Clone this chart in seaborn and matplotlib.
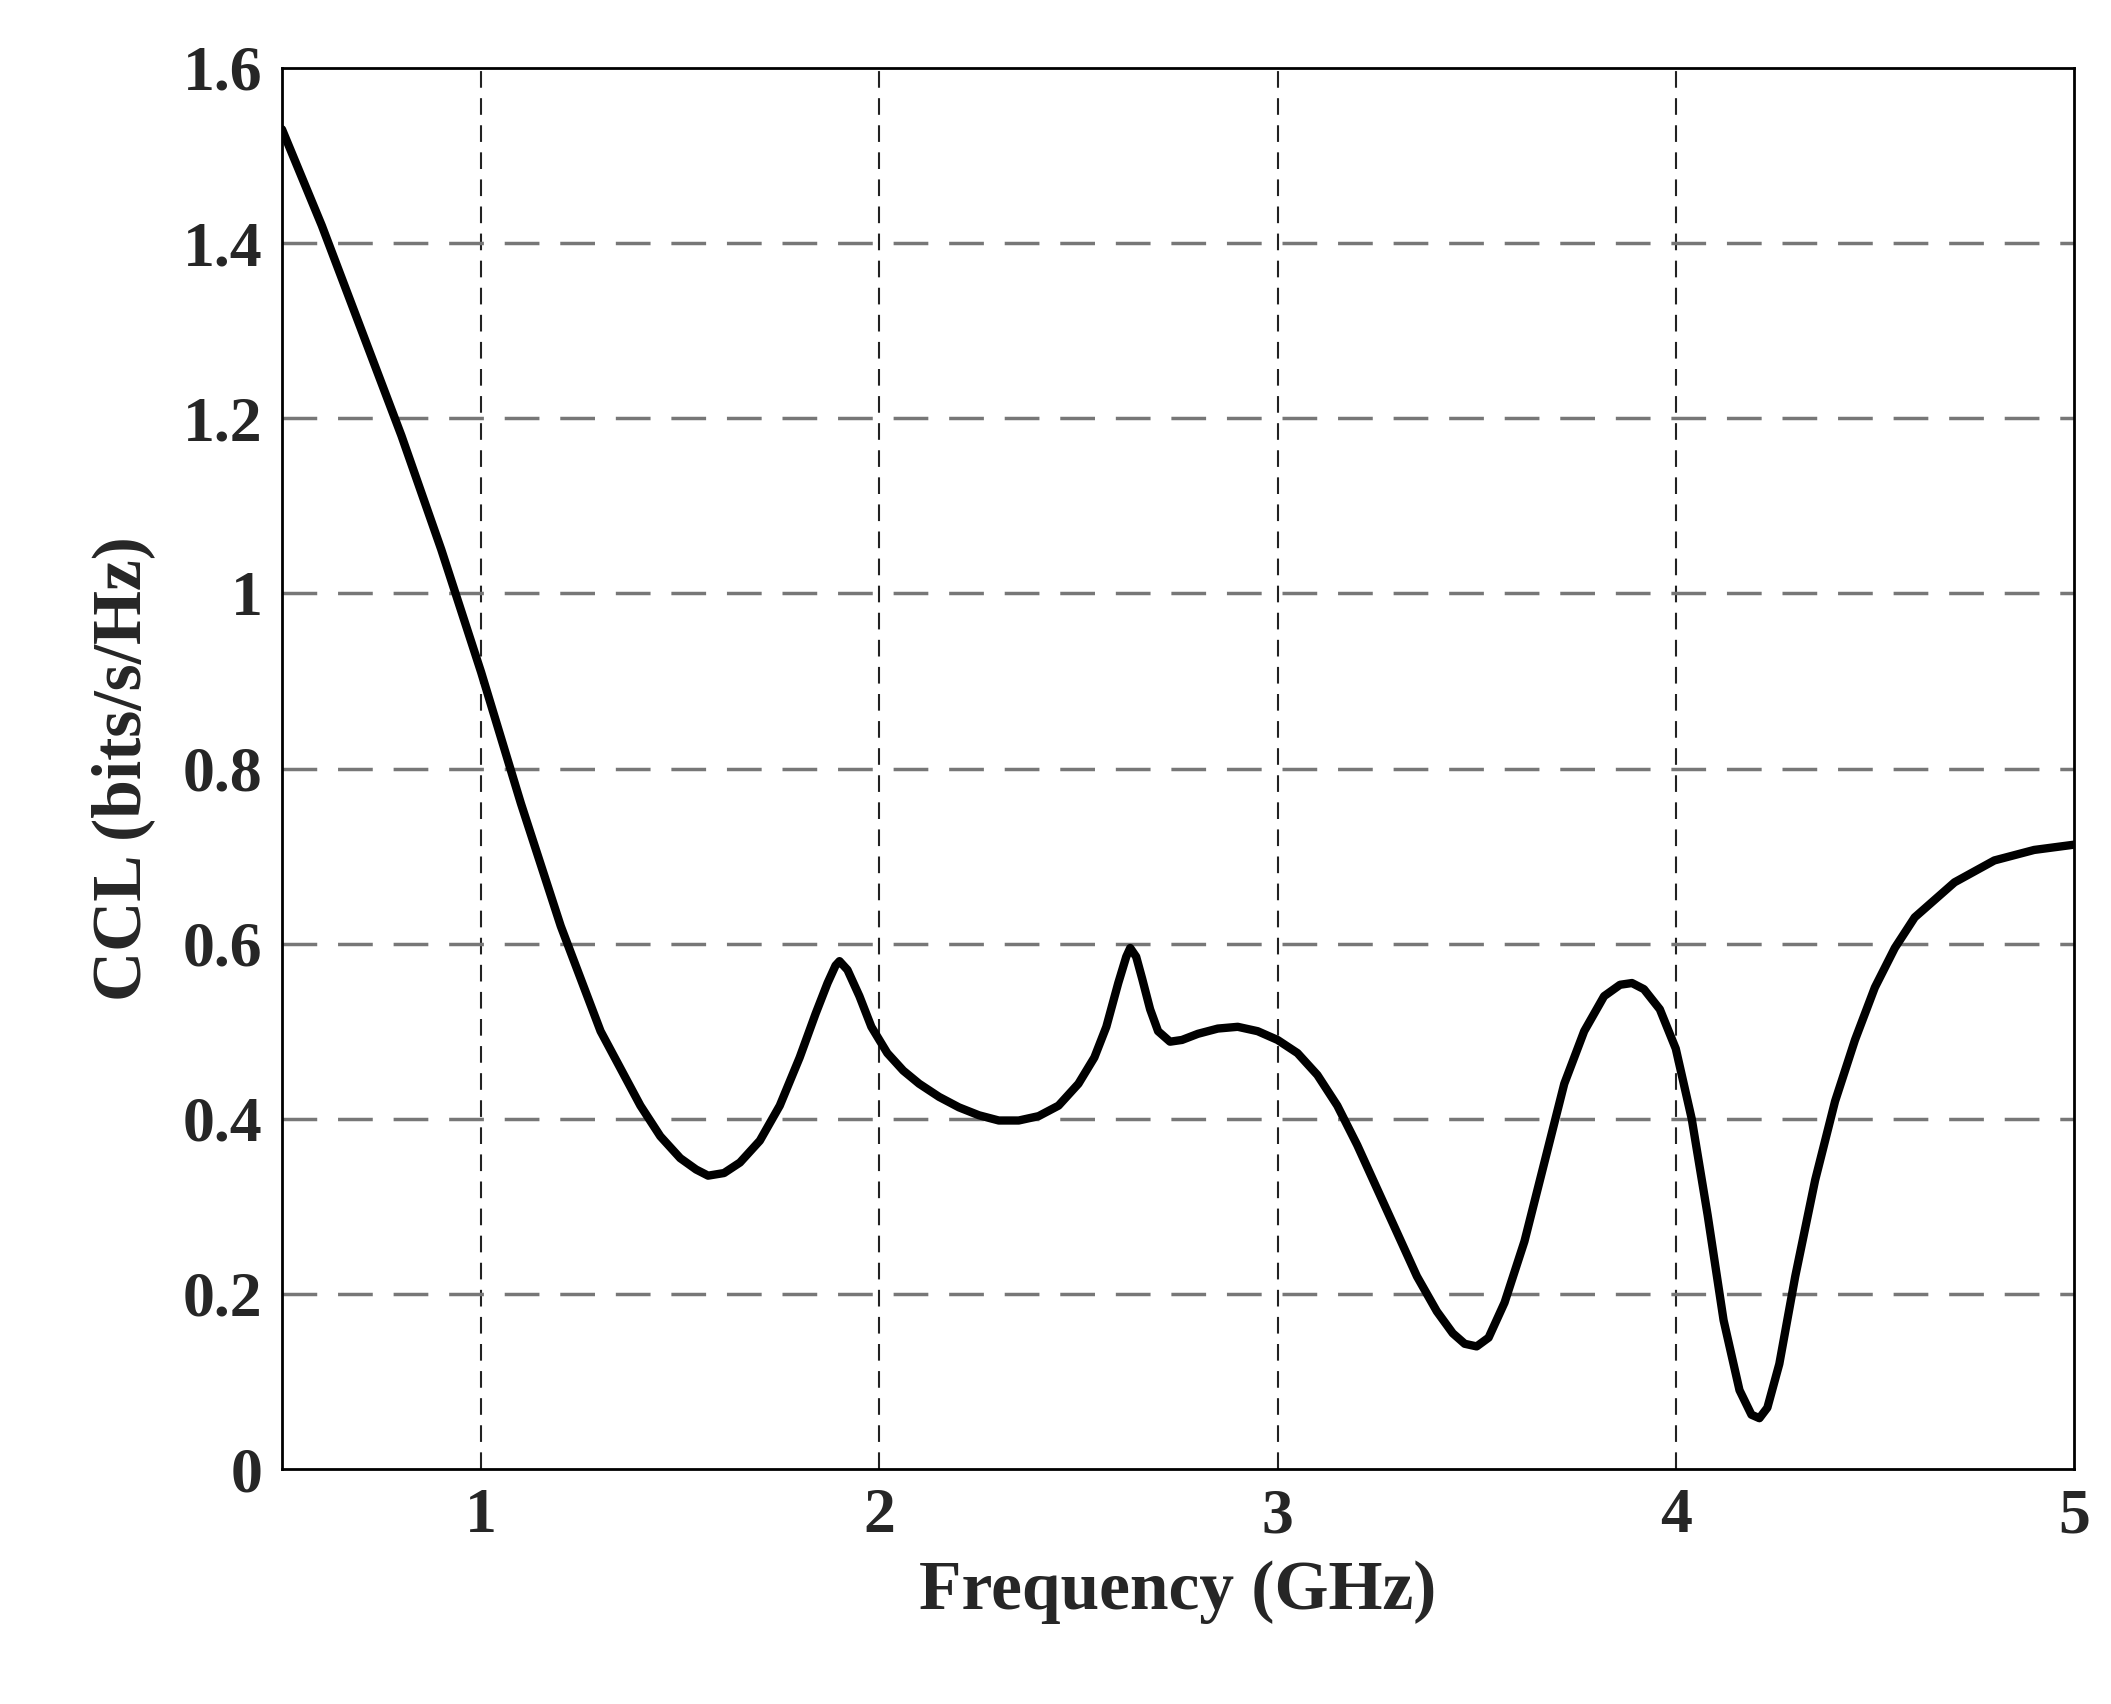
import matplotlib
matplotlib.use("Agg")
import matplotlib.pyplot as plt
import seaborn as sns
import pandas as pd

freq = [0.5, 0.6, 0.7, 0.8, 0.9, 1.0, 1.1, 1.2, 1.3, 1.4, 1.45, 1.5, 1.54, 1.57, 1.61, 1.65, 1.7, 1.75, 1.8, 1.84, 1.87, 1.89, 1.9, 1.92, 1.95, 1.98, 2.02, 2.06, 2.1, 2.15, 2.2, 2.25, 2.3, 2.35, 2.4, 2.45, 2.5, 2.54, 2.57, 2.6, 2.62, 2.63, 2.645, 2.66, 2.68, 2.7, 2.73, 2.76, 2.8, 2.85, 2.9, 2.95, 3.0, 3.05, 3.1, 3.15, 3.2, 3.25, 3.3, 3.35, 3.4, 3.44, 3.47, 3.5, 3.53, 3.57, 3.62, 3.67, 3.72, 3.77, 3.82, 3.86, 3.89, 3.92, 3.96, 4.0, 4.04, 4.08, 4.12, 4.16, 4.19, 4.21, 4.23, 4.26, 4.3, 4.35, 4.4, 4.45, 4.5, 4.55, 4.6, 4.7, 4.8, 4.9, 5.0]
ccl = [1.53, 1.42, 1.30, 1.18, 1.05, 0.91, 0.76, 0.62, 0.50, 0.415, 0.38, 0.355, 0.342, 0.335, 0.338, 0.35, 0.375, 0.415, 0.47, 0.52, 0.555, 0.575, 0.58, 0.57, 0.54, 0.505, 0.475, 0.455, 0.44, 0.425, 0.413, 0.404, 0.398, 0.398, 0.403, 0.415, 0.44, 0.47, 0.505, 0.555, 0.585, 0.595, 0.585, 0.56, 0.525, 0.5, 0.488, 0.49, 0.497, 0.503, 0.505, 0.5, 0.49, 0.475, 0.45, 0.415, 0.37, 0.32, 0.27, 0.22, 0.18, 0.155, 0.143, 0.14, 0.15, 0.19, 0.26, 0.35, 0.44, 0.5, 0.54, 0.553, 0.555, 0.548, 0.525, 0.48, 0.40, 0.29, 0.17, 0.09, 0.062, 0.058, 0.07, 0.12, 0.22, 0.33, 0.42, 0.49, 0.55, 0.595, 0.63, 0.67, 0.695, 0.707, 0.713]
xticks = [1, 2, 3, 4, 5]
yticks = [0, 0.2, 0.4, 0.6, 0.8, 1, 1.2, 1.4, 1.6]
ylabels = ["0", "0.2", "0.4", "0.6", "0.8", "1", "1.2", "1.4", "1.6"]

sns.set_style("white")
plt.rcParams['font.family'] = ['Liberation Serif', 'DejaVu Serif']
plt.rcParams['font.weight'] = 'bold'

fig = plt.figure(figsize=(21.11, 17.04), dpi=100)
ax = fig.add_axes([282/2111, 1 - 1469/1704, (2074-282)/2111, (1469-68)/1704])
df = pd.DataFrame({"f": freq, "c": ccl})
sns.lineplot(data=df, x="f", y="c", ax=ax, color="black", linewidth=6)
ax.set_xlim(0.5, 5)
ax.set_ylim(0, 1.6)
ax.set_xticks(xticks)
ax.set_xticklabels([str(t) for t in xticks])
ax.set_yticks(yticks)
ax.set_yticklabels(ylabels)
for x in xticks[:-1]:
    ax.axvline(x, color="#222222", lw=1.5, ls=(0, (8, 5)), zorder=0)
for y in yticks[1:-1]:
    ax.axhline(y, color="#777777", lw=2.5, ls=(0, (10, 6)), zorder=0)
for s in ax.spines.values():
    s.set_color("black"); s.set_linewidth(2)
ax.tick_params(labelsize=46, direction="in", length=6, width=2, pad=14)
for lab in ax.get_xticklabels() + ax.get_yticklabels():
    lab.set_fontweight("bold")
ax.set_xlabel("Frequency (GHz)", fontsize=50, fontweight="bold", labelpad=10)
ax.set_ylabel("CCL (bits/s/Hz)", fontsize=50, fontweight="bold", labelpad=20)
fig.savefig("out.png", dpi=100, facecolor="white")
